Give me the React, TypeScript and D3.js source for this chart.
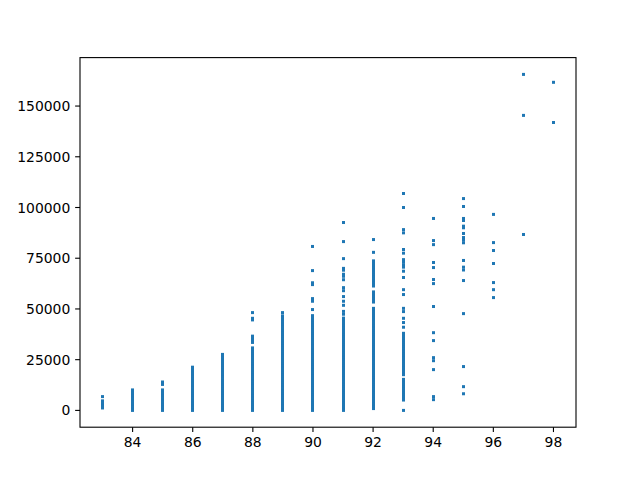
import React from "react";
import * as d3 from "d3";

// x categories (scores) and the y values observed at each score
const scores = [83, 84, 85, 86, 87, 88, 89, 90, 91, 92, 93, 94, 95, 96, 97, 98];

const y83 = [6800, 4700, 4300, 3800, 3300, 2900, 2400, 2000, 1600, 1200];
const y84 = [10100, 9500, 8800, 8100, 7600, 7000, 6300, 5700, 5200, 4600, 3900, 3300, 2800, 2200, 1500, 900, 400, 0];
const y85 = [14000, 12800, 10100, 9400, 8800, 8100, 7300, 6600, 6000, 5300, 4500, 3900, 3200, 2500, 1900, 1200, 700, 0];
const y86 = [21300, 20700, 19900, 19200, 18600, 17800, 17100, 16500, 15700, 15000, 14300, 13600, 12900, 12200, 11500, 10800, 10100, 9400, 8700, 8000, 7300, 6600, 5900, 5200, 4500, 3800, 3100, 2400, 1700, 1000, 400, 0];
const y87 = [27600, 26700, 25800, 24700, 23900, 22800, 21900, 21000, 20100, 19000, 18200, 17100, 16300, 15200, 14400, 13500, 12500, 11600, 10700, 9700, 8800, 7900, 7000, 6000, 5100, 4200, 3300, 2400, 1400, 600, 0];
const y88 = [48200, 45400, 44600, 36600, 35800, 34800, 33500, 30800, 29600, 28700, 27700, 26800, 25900, 24900, 24000, 23000, 22100, 21200, 20300, 19300, 18400, 17500, 16600, 15600, 14700, 13800, 12800, 11900, 11000, 10000, 9100, 8200, 7300, 6300, 5400, 4500, 3600, 2600, 1700, 800, 0];
const y89 = [48200, 46600, 45700, 44700, 43800, 42800, 41900, 40900, 40000, 39100, 38100, 37200, 36200, 35300, 34300, 33400, 32500, 31500, 30600, 29600, 28700, 27700, 26800, 25900, 24900, 24000, 23000, 22100, 21100, 20200, 19300, 18300, 17400, 16400, 15500, 14500, 13600, 12700, 11700, 10800, 9800, 8900, 7900, 7000, 6100, 5100, 4200, 3200, 2300, 1300, 400, 0];
const y90 = [80800, 68900, 62900, 62000, 55100, 53800, 49700, 46700, 45900, 44800, 44000, 43000, 42100, 41100, 40400, 39500, 38500, 37600, 36700, 35700, 34800, 33800, 32900, 31900, 31000, 30000, 29100, 28200, 27200, 26300, 25300, 24400, 23400, 22500, 21600, 20600, 19700, 18700, 17800, 16800, 15900, 15000, 14000, 13100, 12100, 11200, 10200, 9300, 8400, 7400, 6500, 5500, 4600, 3700, 2600, 1700, 800, 0];
const y91 = [92600, 83200, 74800, 70000, 69100, 67100, 66100, 64400, 60500, 59000, 56100, 53800, 51800, 48800, 47400, 45500, 44600, 43600, 42700, 41700, 40800, 39800, 38900, 37900, 37000, 36000, 35100, 34100, 33200, 32200, 31300, 30300, 29400, 28400, 27500, 26500, 25600, 24600, 23700, 22700, 21800, 20800, 19900, 18900, 18000, 17000, 16100, 15100, 14200, 13200, 12300, 11300, 10400, 9400, 8500, 7500, 6600, 5600, 4700, 3700, 2800, 1800, 900, 0];
const y92 = [84200, 77900, 73700, 72900, 72000, 71100, 70200, 69300, 68400, 67500, 66500, 65600, 64700, 63800, 62900, 62000, 61300, 58400, 57500, 56600, 55700, 54800, 53900, 53400, 50300, 49600, 48400, 47500, 46500, 45600, 44600, 43700, 42700, 41800, 40800, 39900, 38900, 38000, 37000, 36100, 35100, 34200, 33200, 32300, 31300, 30400, 29400, 28500, 27500, 26600, 25600, 24700, 23700, 22800, 21800, 20900, 19900, 19000, 18000, 17100, 16100, 15200, 14200, 13300, 12300, 11400, 10400, 9500, 8500, 7600, 6600, 5700, 4700, 4100, 3000, 2200, 1500, 900];
const y93 = [106900, 100000, 89100, 87500, 79300, 77500, 74300, 73000, 71700, 70600, 68600, 65500, 59500, 57100, 50300, 48700, 45400, 43300, 41000, 38000, 37100, 36200, 35200, 34300, 33300, 32400, 31400, 30500, 29500, 28600, 27600, 26700, 25700, 24800, 23800, 22900, 21900, 21000, 20000, 19100, 18100, 17600, 15300, 14300, 13400, 12400, 11500, 10500, 9600, 8600, 7700, 6700, 5800, 5100, 0];
const y94 = [94600, 83700, 81700, 72900, 70400, 64500, 62500, 51200, 38300, 34400, 26000, 24500, 20100, 6800, 5300];
const y95 = [104400, 100500, 94600, 93600, 90800, 90000, 87200, 85200, 83900, 82600, 73900, 70600, 69200, 64000, 47700, 21600, 11700, 8200];
const y96 = [96600, 82700, 78800, 72400, 63000, 59500, 55600];
const y97 = [165600, 145400, 86700];
const y98 = [161700, 141900];

const valuesByScore = [y83, y84, y85, y86, y87, y88, y89, y90, y91, y92, y93, y94, y95, y96, y97, y98];

const xTicks = [84, 86, 88, 90, 92, 94, 96, 98];
const yTicks = [0, 25000, 50000, 75000, 100000, 125000, 150000];

const W = 640;
const H = 480;
const left = 80;
const right = 576;
const top = 57.6;
const bottom = 427.2;
const color = "#1f77b4";
const fontSize = 13.9;
const tickLen = 4.86;
const pad = 4.86;
const markerSize = 3;

function padded(ext: [number, number]): [number, number] {
  const r = ext[1] - ext[0];
  return [ext[0] - 0.05 * r, ext[1] + 0.05 * r];
}

export default function App() {
  const points = scores.flatMap((s, i) => valuesByScore[i].map((v) => ({ x: s, y: v })));
  const x = d3.scaleLinear().domain(padded(d3.extent(points, (d) => d.x) as [number, number])).range([left, right]);
  const y = d3.scaleLinear().domain(padded(d3.extent(points, (d) => d.y) as [number, number])).range([bottom, top]);

  return (
    <svg
      width={W}
      height={H}
      style={{ position: "absolute", left: 0, top: 0, background: "#fff" }}
      fontFamily="DejaVu Sans"
      fontSize={fontSize}
    >
      <rect x={0} y={0} width={W} height={H} fill="#fff" />
      <g>
        {points.map((p, i) => (
          <rect
            key={i}
            x={Math.round(x(p.x) - markerSize / 2)}
            y={y(p.y) - markerSize / 2}
            width={markerSize}
            height={markerSize}
            fill={color}
          />
        ))}
      </g>
      <rect x={left} y={top} width={right - left} height={bottom - top} fill="none" stroke="#000" strokeWidth={1.1} />
      {xTicks.map((t) => (
        <g key={"x" + t}>
          <line x1={x(t)} x2={x(t)} y1={bottom} y2={bottom + tickLen} stroke="#000" strokeWidth={1.1} />
          <text x={x(t)} y={bottom + tickLen + pad} dy="0.76em" textAnchor="middle" fill="#000">
            {t}
          </text>
        </g>
      ))}
      {yTicks.map((t) => (
        <g key={"y" + t}>
          <line x1={left - tickLen} x2={left} y1={y(t)} y2={y(t)} stroke="#000" strokeWidth={1.1} />
          <text x={left - tickLen - pad} y={y(t)} dy="0.36em" textAnchor="end" fill="#000">
            {t}
          </text>
        </g>
      ))}
    </svg>
  );
}
